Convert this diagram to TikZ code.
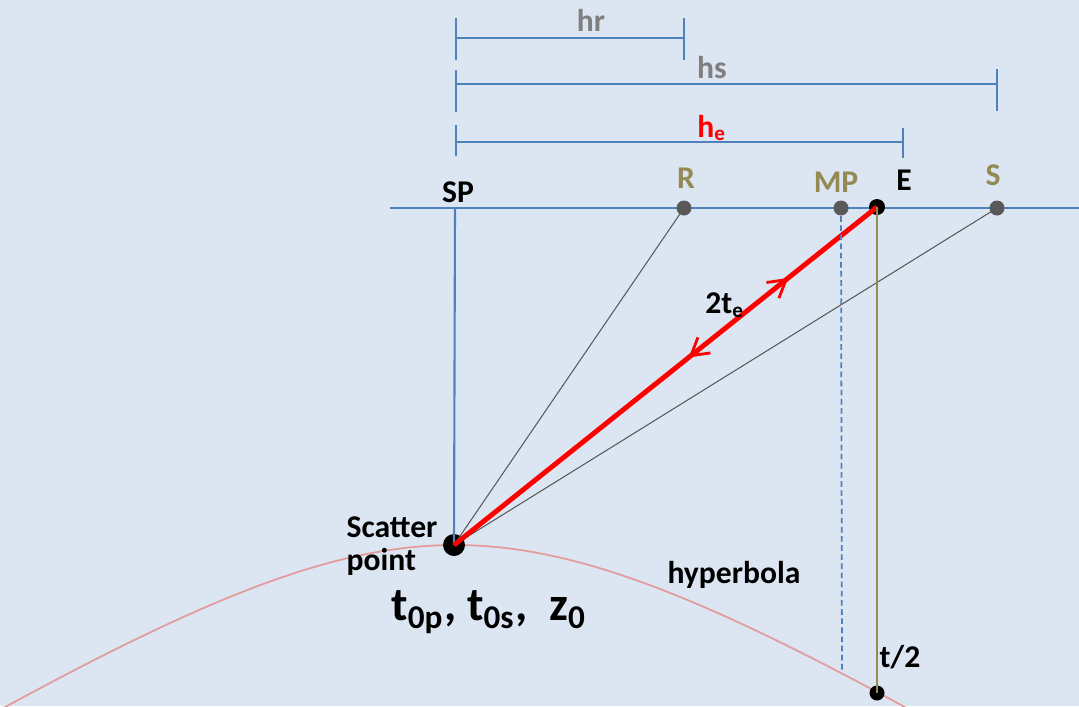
\documentclass[tikz,border=0pt]{standalone}
\usepackage{fontspec}
\setmainfont{Carlito}
\usetikzlibrary{arrows.meta,positioning,calc,decorations.markings}
\definecolor{bgblue}{HTML}{DCE6F2}
\definecolor{lineblue}{HTML}{4F81BD}
\definecolor{olive}{HTML}{948A54}
\definecolor{dotgray}{HTML}{595959}
\definecolor{textgray}{HTML}{7F7F7F}
\definecolor{raygray}{HTML}{595959}
\definecolor{hypred}{HTML}{E39B9B}
\tikzset{barb/.tip={Straight Barb[length=1.7mm,width=2.0mm,line width=0.8pt]}}

\begin{document}
\begin{tikzpicture}[
    every node/.style={font=\bfseries\fontsize{9}{10.5}\selectfont},
    gdot/.style={circle,fill=dotgray,inner sep=0pt,minimum size=1.5mm},
    bdot/.style={circle,fill=black,inner sep=0pt,minimum size=1.5mm},
    dimline/.style={draw=lineblue,line width=0.6pt},
    ray/.style={draw=raygray,line width=0.3pt}]
    % background
    \fill[bgblue] (0,0) rectangle (10.79,7.06);
    \clip (0,0) rectangle (10.79,7.06);

    % hyperbola
    \draw[hypred, line width=0.5pt] plot[domain=0:9.4, samples=90]
        (\x, {3.317-sqrt(2.914+(0.635*(\x-4.55))^2)});
    \node (hyplabel) at (7.34,1.31) {hyperbola};

    % surface line
    \coordinate (lineL) at (3.90,4.98);
    \coordinate (lineR) at (10.79,4.98);
    \draw[dimline] (lineL) -- (lineR);

    % points on the surface
    \coordinate (SP) at (4.55,4.98);
    \node[gdot] (R) at (6.84,4.98) {};
    \node[gdot] (MP) at (8.41,4.98) {};
    \node[bdot,minimum size=1.6mm] (E) at (8.77,4.99) {};
    \node[gdot] (S) at (9.97,4.98) {};
    \node (SPlabel) at (4.58,5.14) {SP};
    \node[olive] (Rlabel) at (6.86,5.28) {R};
    \node[olive] (MPlabel) at (8.36,5.24) {MP};
    \node (Elabel) at (9.04,5.26) {E};
    \node[olive] (Slabel) at (9.93,5.31) {S};

    % scatter point
    \node[circle,fill=black,inner sep=0pt,minimum size=2.2mm] (SC) at (4.54,1.61) {};
    \draw[dimline] (SP) -- (SC.center);
    \node[align=left] (SClabel) at (3.92,1.60) {Scatter\\[-1pt]point};
    \node[font=\bfseries\fontsize{13.5}{15}\selectfont] (t0label) at (4.89,0.94)
        {t\textsubscript{0p}, t\textsubscript{0s},~ z\textsubscript{0}};

    % rays
    \draw[ray] (SC.center) -- (R.center);
    \draw[ray] (SC.center) -- (S.center);
    \draw[red, line width=1.4pt, postaction={decorate}, decoration={markings,
        mark=at position 0.79 with {\arrow{barb}},
        mark=at position 0.555 with {\arrowreversed{barb}}}]
        (SC.center) -- (E.center);
    \node (telabel) at (7.25,4.01) {2t\textsubscript{e}};

    % midpoint and t/2
    \coordinate (MPfoot) at (8.42,0.33);
    \draw[lineblue, line width=0.5pt, dash pattern=on 1.6pt off 1pt] (MP.south) -- (MPfoot);
    \node[bdot] (T) at (8.77,0.13) {};
    \draw[olive, line width=0.7pt] (E.center) -- (T.center);
    \node (thalf) at (9.00,0.49) {t/2};

    % hr
    \coordinate (hrA) at (4.56,6.68);
    \coordinate (hrB) at (6.84,6.68);
    \draw[dimline] (4.56,6.88) -- (4.56,6.46);
    \draw[dimline] (6.84,6.88) -- (6.84,6.46);
    \draw[dimline] (hrA) -- (hrB);
    \node[textgray] (hrlabel) at (5.91,6.86) {hr};

    % hs
    \coordinate (hsA) at (4.56,6.22);
    \coordinate (hsB) at (9.97,6.22);
    \draw[dimline] (4.56,6.36) -- (4.56,5.94);
    \draw[dimline] (9.97,6.37) -- (9.97,5.95);
    \draw[dimline] (hsA) -- (hsB);
    \node[textgray] (hslabel) at (7.12,6.38) {hs};

    % he
    \coordinate (heA) at (4.56,5.64);
    \coordinate (heB) at (9.03,5.64);
    \draw[dimline] (4.56,5.81) -- (4.56,5.50);
    \draw[dimline] (9.03,5.78) -- (9.03,5.48);
    \draw[dimline] (heA) -- (heB);
    \node[red] (helabel) at (7.12,5.78) {h\textsubscript{e}};
\end{tikzpicture}
\end{document}
